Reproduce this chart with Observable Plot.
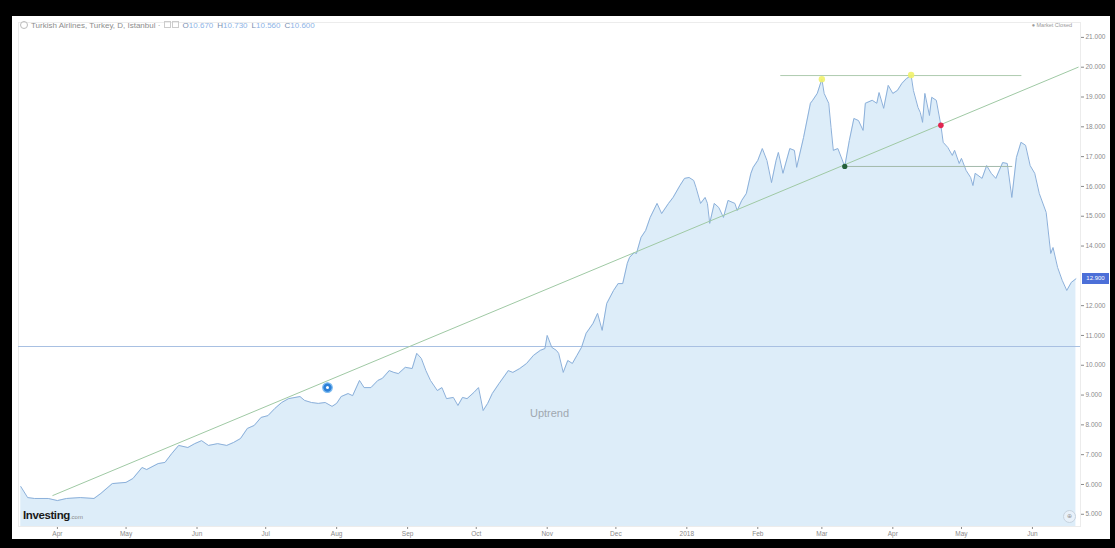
<!DOCTYPE html>
<html>
<head>
<meta charset="utf-8">
<script src="https://cdn.jsdelivr.net/npm/d3@7"></script>
<script src="https://cdn.jsdelivr.net/npm/@observablehq/plot@0.6"></script>
<style>
html,body{margin:0;padding:0;background:#000;width:1115px;height:548px;overflow:hidden;font-family:"Liberation Sans",Arial,sans-serif;}
#panel{position:absolute;left:12px;top:16px;width:1098px;height:523px;background:#fff;overflow:hidden;}
#chart{position:absolute;left:0;top:0;}
.hdr{position:absolute;left:8px;top:5px;font-size:8px;color:#8d8d8d;white-space:nowrap;line-height:10px;}
.hdr .ic{display:inline-block;width:6px;height:6px;border:1px solid #bbb;border-radius:50%;vertical-align:-1px;margin-right:3px;}
.hdr .sq{display:inline-block;width:5px;height:5px;border:1px solid #ccc;vertical-align:0;margin-left:1px;}
.hdr .k{color:#7a8fb0;margin-left:4px;}
.hdr .v{color:#8db4e6;}
.mc{position:absolute;right:38px;top:6px;font-size:5.5px;color:#9a9a9a;white-space:nowrap;}
.logo{position:absolute;left:11px;top:493px;font-size:11.5px;font-weight:bold;color:#1a1a1a;letter-spacing:-0.4px;white-space:nowrap;}
.logo span{font-size:6px;font-weight:normal;color:#888;letter-spacing:0;}
.btn{position:absolute;left:1051px;top:494px;width:11px;height:11px;border:1px solid #c7d3df;border-radius:50%;background:#e8f1fa;font-size:6px;color:#999;text-align:center;line-height:11px;}
.plabel{position:absolute;left:1070px;width:27px;height:11px;background:#4c6fd8;color:#fff;font-size:6px;line-height:11px;text-align:center;}
</style>
</head>
<body>
<div id="panel">
  <div id="chart"></div>
  <div class="hdr"><span class="ic"></span>Turkish Airlines, Turkey, D, Istanbul · <span class="sq"></span><span class="sq"></span><span class="k">O</span><span class="v">10.670</span><span class="k">H</span><span class="v">10.730</span><span class="k">L</span><span class="v">10.560</span><span class="k">C</span><span class="v">10.600</span></div>
  <div class="mc">● Market Closed</div>
  <div class="logo">Investing<span>.com</span></div>
  <div class="btn">⊕</div>
</div>
<script>
// ---- data ----
const dates = ["2017-03-16","2017-03-19","2017-03-22","2017-03-28","2017-04-01","2017-04-05","2017-04-11","2017-04-17","2017-04-20","2017-04-25",
"2017-05-01","2017-05-04","2017-05-08","2017-05-10","2017-05-15","2017-05-18","2017-05-21","2017-05-24","2017-05-28","2017-05-31",
"2017-06-03","2017-06-06","2017-06-10","2017-06-14","2017-06-17","2017-06-20","2017-06-23","2017-06-26","2017-06-29","2017-07-02",
"2017-07-05","2017-07-08","2017-07-11","2017-07-16","2017-07-18","2017-07-21","2017-07-24","2017-07-27","2017-07-30","2017-08-01",
"2017-08-03","2017-08-06","2017-08-08","2017-08-11","2017-08-13","2017-08-16","2017-08-19","2017-08-21","2017-08-24","2017-08-26",
"2017-08-28","2017-08-31","2017-09-03","2017-09-05","2017-09-07","2017-09-09","2017-09-11","2017-09-14","2017-09-16","2017-09-18",
"2017-09-21","2017-09-23","2017-09-25","2017-09-27","2017-09-30","2017-10-02","2017-10-04","2017-10-06","2017-10-08","2017-10-11",
"2017-10-15","2017-10-17","2017-10-20","2017-10-23","2017-10-26","2017-10-29","2017-10-31","2017-11-01","2017-11-03","2017-11-05",
"2017-11-06","2017-11-08","2017-11-10","2017-11-12","2017-11-14","2017-11-16","2017-11-18","2017-11-21","2017-11-23","2017-11-25",
"2017-11-27","2017-11-30","2017-12-02","2017-12-04","2017-12-06","2017-12-07","2017-12-09","2017-12-10","2017-12-12","2017-12-14",
"2017-12-16","2017-12-19","2017-12-21","2017-12-24","2017-12-26","2017-12-29","2017-12-31","2018-01-02","2018-01-04","2018-01-05",
"2018-01-07","2018-01-09","2018-01-10","2018-01-11","2018-01-13","2018-01-15","2018-01-17","2018-01-19","2018-01-22","2018-01-23",
"2018-01-25","2018-01-27","2018-01-29","2018-01-30","2018-02-01","2018-02-03","2018-02-05","2018-02-07","2018-02-09","2018-02-10",
"2018-02-12","2018-02-15","2018-02-17","2018-02-18","2018-02-21","2018-02-24","2018-02-25","2018-02-27","2018-03-01","2018-03-02",
"2018-03-04","2018-03-05","2018-03-06","2018-03-08","2018-03-11","2018-03-13","2018-03-15","2018-03-17","2018-03-19","2018-03-20",
"2018-03-23","2018-03-25","2018-03-26","2018-03-28","2018-03-30","2018-04-01","2018-04-03","2018-04-05","2018-04-07","2018-04-09",
"2018-04-10","2018-04-12","2018-04-13","2018-04-14","2018-04-15","2018-04-17","2018-04-18","2018-04-20","2018-04-22","2018-04-23",
"2018-04-25","2018-04-27","2018-04-28","2018-04-30","2018-05-01","2018-05-03","2018-05-05","2018-05-06","2018-05-07","2018-05-10",
"2018-05-12","2018-05-14","2018-05-16","2018-05-19","2018-05-21","2018-05-23","2018-05-25","2018-05-27","2018-05-29","2018-05-31",
"2018-06-02","2018-06-04","2018-06-07","2018-06-09","2018-06-10","2018-06-12","2018-06-14","2018-06-16","2018-06-18","2018-06-20"];
const prices = [5.93,5.56,5.53,5.53,5.46,5.53,5.56,5.53,5.70,6.03,
6.07,6.20,6.57,6.50,6.70,6.74,7.04,7.31,7.24,7.37,
7.47,7.31,7.37,7.31,7.41,7.54,7.88,7.98,8.25,8.31,
8.55,8.75,8.88,8.95,8.82,8.75,8.72,8.75,8.62,8.72,
8.95,9.05,8.98,9.49,9.25,9.25,9.49,9.56,9.82,9.76,
9.72,9.93,9.89,10.40,10.23,9.82,9.49,9.15,9.25,8.88,
8.92,8.65,8.92,8.88,9.09,9.25,8.48,8.72,9.05,9.39,
9.82,9.76,9.89,10.06,10.33,10.50,10.56,11.00,10.60,10.50,
10.40,9.76,10.16,10.06,10.33,10.60,11.07,11.40,11.74,11.17,
12.07,12.51,12.74,12.74,13.42,13.62,13.78,13.75,14.29,14.52,
14.96,15.43,15.09,15.43,15.63,16.03,16.27,16.30,16.20,15.97,
15.43,15.63,15.43,14.76,15.43,15.29,14.96,15.53,15.43,15.19,
15.53,15.76,16.44,16.64,16.87,17.27,16.87,16.13,16.87,17.14,
16.44,17.27,17.21,16.64,17.64,18.79,18.89,19.12,19.60,19.12,
18.79,17.98,17.21,17.27,16.67,17.54,18.28,18.21,17.88,18.79,
18.89,18.79,19.15,18.62,19.39,19.12,19.22,19.46,19.62,19.72,
19.22,18.65,18.48,18.15,19.12,18.38,18.99,18.89,18.05,17.48,
17.31,17.04,17.21,16.77,16.94,16.54,16.30,16.03,16.44,16.27,
16.70,16.44,16.27,16.80,16.77,15.63,16.97,17.48,17.38,16.70,
16.44,15.76,15.13,13.75,13.95,13.28,12.85,12.51,12.78,12.90];

const trendDates = ["2017-03-30","2018-06-21"];
const trendPrices = [5.63, 20.0];
const resistanceDates = ["2018-02-11","2018-05-27"];
const resistancePrice = 19.72;
const supportDates = ["2018-03-11","2018-05-23"];
const supportPrice = 16.67;
const horizontalLevel = 10.63;
const peakDates = ["2018-03-01","2018-04-09"];
const peakPrices = [19.60, 19.74];
const greenDate = "2018-03-11", greenPrice = 16.67;
const redDate = "2018-04-22", redPrice = 18.05;
const eventDate = "2017-07-28", eventPrice = 9.25;
const labelText = "Uptrend", labelDate = "2017-11-02", labelPrice = 8.38;
// 13.000 is hidden behind the last-price label in the reference
const yTicks = [5, 6, 7, 8, 9, 10, 11, 12, 14, 15, 16, 17, 18, 19, 20, 21];
const xTickDates = d3.utcMonths(new Date("2017-04-01"), new Date("2018-06-02"));
const lastLabel = "12.900";

// ---- build ----
const parse = s => new Date(s);
const data = dates.map((d, i) => ({date: parse(d), price: prices[i]}));
const trend = trendDates.map((d, i) => ({date: parse(d), price: trendPrices[i]}));
const resistance = resistanceDates.map(d => ({date: parse(d), price: resistancePrice}));
const support = supportDates.map(d => ({date: parse(d), price: supportPrice}));
const peaks = peakDates.map((d, i) => ({date: parse(d), price: peakPrices[i]}));

const chart = Plot.plot({
  width: 1098,
  height: 523,
  marginLeft: 6,
  marginRight: 30,
  marginTop: 6,
  marginBottom: 13,
  style: {fontSize: "6.5px", color: "#8a8a8a", background: "transparent", fontFamily: "Liberation Sans, Arial, sans-serif"},
  x: {type: "utc", domain: [parse("2017-03-15"), parse("2018-06-22")], ticks: xTickDates,
      tickFormat: d => d.getUTCMonth() === 0 ? String(d.getUTCFullYear()) : d3.utcFormat("%b")(d),
      tickSize: 3, tickPadding: 2, label: null, line: true},
  y: {domain: [4.59, 21.5], ticks: yTicks, tickFormat: d => d.toFixed(3), axis: "right",
      tickSize: 3, tickPadding: 2, label: null, line: true},
  marks: [
    Plot.frame({stroke: "#ececec"}),
    Plot.areaY(data, {x: "date", y: "price", fill: "#ddedf9", clip: true}),
    Plot.ruleY([horizontalLevel], {stroke: "#a8c0e2", strokeWidth: 1.2}),
    Plot.lineY(data, {x: "date", y: "price", stroke: "#8cb0da", strokeWidth: 1}),
    Plot.line(trend, {x: "date", y: "price", stroke: "#9fc9a4", strokeWidth: 1}),
    Plot.line(resistance, {x: "date", y: "price", stroke: "#afcbb0", strokeWidth: 1}),
    Plot.line(support, {x: "date", y: "price", stroke: "#a3b9ab", strokeWidth: 1}),
    Plot.dot(peaks, {x: "date", y: "price", r: 3.2, fill: "#f1f26a", fillOpacity: 0.9}),
    Plot.dot([{date: parse(greenDate), price: greenPrice}], {x: "date", y: "price", r: 2.6, fill: "#23603a"}),
    Plot.dot([{date: parse(redDate), price: redPrice}], {x: "date", y: "price", r: 2.8, fill: "#e0264f"}),
    Plot.dot([{date: parse(eventDate), price: eventPrice}], {x: "date", y: "price", r: 4.8, fill: "#2b80d8", stroke: "#7fbcf0", strokeWidth: 1.2}),
    Plot.dot([{date: parse(eventDate), price: eventPrice}], {x: "date", y: "price", r: 1.5, fill: "#ffffff"}),
    Plot.text([{date: parse(labelDate), price: labelPrice}], {x: "date", y: "price", text: () => labelText, fill: "#a0a8b0", fontSize: 11})
  ]
});
document.getElementById("chart").appendChild(chart);

// last price label, placed through the chart's y scale
let yPos;
try { yPos = chart.scale("y").apply(prices[prices.length - 1]); }
catch (e) { yPos = d3.scaleLinear().domain([4.59, 21.5]).range([510, 6])(prices[prices.length - 1]); }
const lbl = document.createElement("div");
lbl.className = "plabel";
lbl.textContent = lastLabel;
lbl.style.top = (yPos - 5.5) + "px";
document.getElementById("panel").appendChild(lbl);
</script>
</body>
</html>
